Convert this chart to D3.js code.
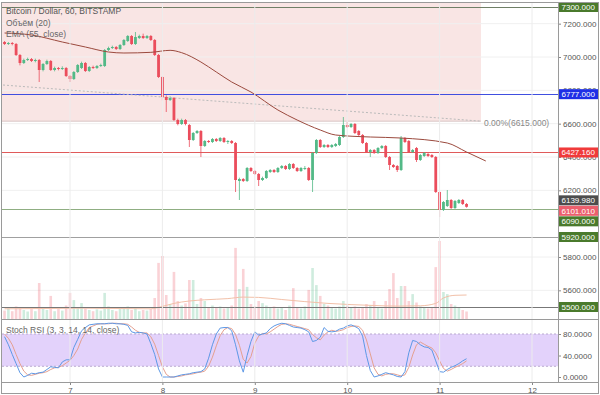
<!DOCTYPE html>
<html lang="ru">
<head>
<meta charset="UTF-8">
<title>Bitcoin / Dollar, 60, BITSTAMP</title>
<script src="https://d3js.org/d3.v7.min.js"></script>
<style>
body{margin:0;background:#fff;}
svg{display:block;font-family:"Liberation Sans",Arial,sans-serif;}
.axis text{font-size:8px;fill:#555;font-family:"Liberation Sans",Arial,sans-serif;}
.axis line{stroke:#888;}
.legend{font-size:8.5px;fill:#666;}
</style>
</head>
<body>
<script>
var width = 600, height = 395;
var left = 2, right = 558, top0 = 3, priceBottom = 319, rsiBottom = 382;

// ---- data ----
var start = Date.UTC(2018, 7, 6, 7); // first hourly candle
var opens = [7090,7078,7084,7078,7012,6964,6982,6988,6976,6982,
  6922,6958,6976,6922,6934,6928,6934,6886,6868,6910,
  6934,6964,6916,6940,6934,6946,6946,7042,7054,7060,
  7048,7072,7096,7126,7078,7114,7126,7114,7126,7102,
  7012,6880,6760,6742,6754,6622,6598,6622,6592,6502,
  6544,6556,6466,6496,6490,6508,6496,6514,6490,6496,
  6484,6256,6268,6256,6334,6316,6298,6262,6274,6310,
  6322,6310,6334,6346,6328,6358,6334,6316,6328,6334,
  6262,6424,6502,6460,6472,6460,6466,6472,6520,6592,
  6580,6598,6556,6532,6484,6430,6442,6424,6454,6466,
  6400,6352,6346,6322,6514,6496,6430,6454,6382,6406,
  6418,6412,6400,6190,6082,6106,6142,6094,6124,6142,
  6118];
var closes = [7078,7084,7078,7012,6964,6982,6988,6976,6982,6922,
  6958,6976,6922,6934,6928,6934,6886,6868,6910,6952,
  6964,6916,6940,6934,6946,6952,7042,7054,7060,7048,
  7072,7102,7126,7078,7120,7126,7114,7126,7102,7012,
  6880,6760,6742,6754,6622,6598,6622,6598,6502,6544,
  6556,6466,6496,6490,6508,6496,6514,6490,6496,6484,
  6262,6268,6256,6334,6316,6298,6262,6274,6316,6322,
  6310,6334,6346,6328,6358,6334,6316,6334,6334,6262,
  6424,6502,6460,6472,6460,6472,6478,6520,6592,6580,
  6598,6544,6532,6484,6430,6442,6424,6454,6466,6400,
  6352,6340,6322,6514,6490,6430,6442,6382,6412,6424,
  6406,6400,6190,6082,6130,6142,6094,6136,6142,6118,
  6101.01];
var highs = [7096,7090,7090,7084,7018,6990,6996,6994,6990,6988,
  6964,6984,6982,6942,6940,6944,6940,6892,6916,6958,
  6972,6970,6946,6948,6952,6960,7048,7062,7068,7066,
  7078,7108,7132,7132,7150,7134,7140,7132,7132,7108,
  7018,6886,6770,6764,6760,6630,6630,6628,6598,6550,
  6562,6562,6502,6502,6514,6514,6520,6520,6502,6502,
  6490,6276,6274,6340,6340,6322,6304,6282,6322,6328,
  6328,6340,6352,6352,6364,6364,6340,6340,6346,6340,
  6430,6508,6508,6478,6478,6478,6484,6526,6640,6610,
  6604,6604,6562,6538,6490,6448,6448,6460,6472,6472,
  6406,6358,6352,6526,6520,6502,6448,6460,6418,6430,
  6424,6418,6406,6196,6136,6202,6148,6142,6148,6148,
  6124];
var lows = [7072,7072,7070,7006,6950,6958,6976,6970,6968,6850,
  6914,6952,6916,6914,6920,6922,6880,6850,6862,6904,
  6928,6910,6910,6928,6928,6940,6940,7036,7048,7042,
  7042,7066,7090,7072,7072,7108,7108,7108,7096,7006,
  6874,6740,6670,6736,6616,6590,6592,6590,6460,6496,
  6538,6400,6460,6484,6484,6490,6490,6484,6478,6478,
  6190,6142,6250,6250,6310,6292,6226,6256,6268,6304,
  6304,6304,6328,6322,6322,6328,6310,6310,6322,6256,
  6190,6418,6454,6454,6454,6454,6460,6466,6514,6574,
  6574,6538,6526,6478,6424,6400,6418,6418,6448,6394,
  6322,6334,6310,6316,6484,6424,6424,6370,6376,6400,
  6400,6394,6184,6040,6076,6100,6088,6088,6118,6112,
  6096];
var volumes = [280,350,260,420,380,300,250,330,260,1200,
  380,300,770,260,330,280,450,870,630,400,
  530,350,300,260,320,280,870,420,300,260,
  350,380,420,300,360,260,300,280,330,700,
  1870,2100,800,500,1570,600,450,520,1300,1300,
  500,700,600,400,450,380,420,350,380,450,
  2370,1000,1670,1070,500,420,600,530,450,380,
  420,350,380,300,450,1030,400,350,420,970,
  1700,1130,770,500,450,400,350,420,600,450,
  380,420,350,400,500,450,600,400,350,600,
  1000,1530,700,1100,1100,600,830,550,420,380,
  350,400,1730,2600,900,830,500,450,370,300,
  250];
var volMaHours  = [0, 10, 20, 30, 38, 41, 44, 48, 52, 58, 62, 66, 72, 78, 84, 90, 96, 102, 108, 112, 114, 117, 120];
var volMaValues = [340, 350, 360, 350, 340, 420, 520, 600, 640, 680, 730, 720, 650, 580, 520, 480, 450, 430, 440, 520, 700, 790, 800];
var emaHours  = [0, 7, 15, 21, 27, 31, 38, 43, 46, 51, 55, 59, 64, 71, 76, 82, 86, 95, 103, 115, 120, 125];
var emaValues = [7144, 7132, 7090, 7060, 7030, 7024, 7028, 7040, 7026, 6970, 6910, 6850, 6790, 6682, 6622, 6562, 6532, 6520, 6514, 6484, 6430, 6376];
var stochK = [75,60,42,25,8,0,3,7,6,8,9,14,19,18,17,28,32,32,55,70,
  86,92,97,98,99,99,99,100,100,99,99,98,96,84,82,83,82,80,62,42,
  15,0,0,0,0,2,4,5,6,8,9,10,15,35,60,80,91,92,92,86,
  60,30,9,40,66,84,78,80,82,90,95,98,100,99,96,93,92,91,88,84,
  66,68,74,92,85,84,85,89,91,95,97,94,90,76,40,12,0,2,5,8,
  6,4,1,0,10,45,68,66,60,56,55,50,30,10,9,14,18,21,25,30,
  34];
var stochD = [80,72,60,42,25,11,4,3,5,7,8,10,14,17,18,21,26,31,40,52,
  70,82,92,95,98,99,99,99,100,100,99,99,98,93,87,83,82,82,75,61,
  40,19,5,0,0,1,2,4,5,6,8,9,11,20,37,58,77,88,92,90,
  79,59,33,26,38,63,76,81,80,84,89,94,98,99,98,96,94,92,90,88,
  79,73,69,78,84,87,85,86,88,92,94,95,94,87,69,43,17,5,2,5,
  6,6,4,2,4,18,41,60,65,61,57,54,45,30,16,11,14,18,21,25,
  30];
var dayTicks = [7, 8, 9, 10, 11, 12];
var priceTicks = [7200, 7000, 6800, 6600, 6400, 6200, 5800, 5600];
var rsiTicks = [0, 40, 80];
var levelPrices = [7300, 6777, 6427.16, 6090, 5920, 5500];
var levelColors = ['#6f7f66', '#3f4fe0', '#e05a5a', '#8fae82', '#a0a0a0', '#777'];
var markPrices = [7300, 6777, 6427.16, 6139.98, 6101.01, 6090, 5920, 5500];
var markColors = ['#4a7a2c', '#1f2fe6', '#f03a3a', '#4d4d4d', '#ec5f6d', '#4a7a2c', '#4a7a2c', '#4a7a2c'];
var fibFrom = {hour: -0.4, price: 6832};
var fibTo = {hour: 123.75, price: 6615};

// ---- scales ----
var hourTime = function(h){ return new Date(start + h * 3600e3); };
var x = d3.scaleUtc()
  .domain([new Date(Date.UTC(2018, 7, 7)), new Date(Date.UTC(2018, 7, 12))])
  .range([70, 532]);
var y = d3.scaleLinear().domain([7300, 5500]).range([7, 307]);
var yVol = d3.scaleLinear().domain([0, 2700]).range([priceBottom, 238]);
var yRsi = d3.scaleLinear().domain([0, 80]).range([377, 334]);

var svg = d3.select('body').append('svg').attr('width', width).attr('height', height);

svg.append('clipPath').attr('id', 'clipPrice').append('rect')
  .attr('x', left).attr('y', top0).attr('width', right - left).attr('height', priceBottom - top0);
svg.append('clipPath').attr('id', 'clipRsi').append('rect')
  .attr('x', left).attr('y', priceBottom).attr('width', right - left).attr('height', rsiBottom - priceBottom);

var gp = svg.append('g').attr('clip-path', 'url(#clipPrice)');
var gr = svg.append('g').attr('clip-path', 'url(#clipRsi)');

// fib zone
var fibX = x(hourTime(fibTo.hour));
gp.append('rect').attr('x', left).attr('y', top0)
  .attr('width', fibX - left).attr('height', y(fibTo.price) - top0)
  .attr('fill', '#f9e5e4');

// grid
var days = dayTicks.map(function(d){ return new Date(Date.UTC(2018, 7, d)); });
svg.selectAll('.vgrid').data(days).enter().append('line')
  .attr('x1', function(d){ return x(d); }).attr('x2', function(d){ return x(d); })
  .attr('y1', top0).attr('y2', rsiBottom)
  .attr('stroke', '#ececec').attr('stroke-width', 1);
gp.selectAll('.hgrid').data(priceTicks).enter().append('line')
  .attr('x1', left).attr('x2', right)
  .attr('y1', function(d){ return y(d); }).attr('y2', function(d){ return y(d); })
  .attr('stroke', '#f0f0f0');

gp.append('line').attr('x1', left).attr('x2', fibX)
  .attr('y1', y(fibTo.price)).attr('y2', y(fibTo.price))
  .attr('stroke', '#d8c4c4');

// volume
var idx = d3.range(closes.length);
var up = function(i){ return closes[i] >= opens[i]; };
gp.selectAll('.vol').data(idx).enter().append('rect')
  .attr('x', function(i){ return x(hourTime(i)) - 1.3; })
  .attr('width', 2.6)
  .attr('y', function(i){ return yVol(volumes[i]); })
  .attr('height', function(i){ return yVol(0) - yVol(volumes[i]); })
  .attr('fill', function(i){ return up(i) ? 'rgba(83,185,135,0.28)' : 'rgba(235,77,92,0.25)'; });

gp.append('path')
  .datum(volMaHours)
  .attr('fill', 'none').attr('stroke', '#f2c0a8').attr('stroke-width', 1)
  .attr('d', d3.line()
    .x(function(h){ return x(hourTime(h)); })
    .y(function(h, k){ return yVol(volMaValues[k]); })
    .curve(d3.curveMonotoneX));

// levels
gp.selectAll('.level').data(levelPrices).enter().append('line')
  .attr('x1', left).attr('x2', right)
  .attr('y1', function(d){ return Math.round(y(d)) + 0.5; })
  .attr('y2', function(d){ return Math.round(y(d)) + 0.5; })
  .attr('stroke', function(d, k){ return levelColors[k]; })
  .attr('stroke-width', 1);

// fib trend line
gp.append('line')
  .attr('x1', x(hourTime(fibFrom.hour))).attr('y1', y(fibFrom.price))
  .attr('x2', fibX).attr('y2', y(fibTo.price))
  .attr('stroke', '#bbb').attr('stroke-dasharray', '2,2');

// candles
var colorOf = function(i){ return up(i) ? '#53b987' : '#eb4d5c'; };
gp.selectAll('.wick').data(idx).enter().append('line')
  .attr('x1', function(i){ return x(hourTime(i)); })
  .attr('x2', function(i){ return x(hourTime(i)); })
  .attr('y1', function(i){ return y(highs[i]); })
  .attr('y2', function(i){ return y(lows[i]); })
  .attr('stroke', colorOf).attr('stroke-width', 0.8);
gp.selectAll('.body').data(idx).enter().append('rect')
  .attr('x', function(i){ return x(hourTime(i)) - 1.4; })
  .attr('width', 2.8)
  .attr('y', function(i){ return y(Math.max(opens[i], closes[i])); })
  .attr('height', function(i){ return Math.max(1, Math.abs(y(opens[i]) - y(closes[i]))); })
  .attr('fill', colorOf);

// EMA
gp.append('path')
  .datum(emaHours)
  .attr('fill', 'none').attr('stroke', '#9b4a3e').attr('stroke-width', 1)
  .attr('d', d3.line()
    .x(function(h){ return x(hourTime(h)); })
    .y(function(h, k){ return y(emaValues[k]); })
    .curve(d3.curveMonotoneX));

// legend
svg.append('text').attr('class', 'legend').attr('x', 6).attr('y', 14)
  .style('fill', '#555').text('Bitcoin / Dollar, 60, BITSTAMP');
svg.append('text').attr('class', 'legend').attr('x', 6).attr('y', 25.5).text('Объём (20)');
svg.append('text').attr('class', 'legend').attr('x', 6).attr('y', 36.5).text('EMA (55, close)');
svg.append('text').attr('class', 'legend').attr('x', fibX + 3).attr('y', y(fibTo.price) + 4.5)
  .style('fill', '#888').text('0.00%(' + d3.format('.3f')(fibTo.price) + ')');

// stoch rsi pane
gr.append('rect').attr('x', left).attr('width', right - left)
  .attr('y', yRsi(80)).attr('height', yRsi(20) - yRsi(80)).attr('fill', '#e3d2fb');
gr.selectAll('.band').data([80, 20]).enter().append('line')
  .attr('x1', left).attr('x2', right)
  .attr('y1', function(d){ return yRsi(d); }).attr('y2', function(d){ return yRsi(d); })
  .attr('stroke', '#b9a9cf').attr('stroke-dasharray', '2,2');
var rsiLine = function(vals){
  return d3.line().x(function(v, i){ return x(hourTime(i)); })
    .y(function(v){ return yRsi(v); })(vals);
};
gr.append('path').attr('d', rsiLine(stochD)).attr('fill', 'none')
  .attr('stroke', '#e5a090').attr('stroke-width', 1);
gr.append('path').attr('d', rsiLine(stochK)).attr('fill', 'none')
  .attr('stroke', '#5d98e6').attr('stroke-width', 1);
svg.append('text').attr('class', 'legend').attr('x', 6).attr('y', 333).text('Stoch RSI (3, 3, 14, 14, close)');

// axes
var priceAxis = svg.append('g').attr('class', 'axis')
  .attr('transform', 'translate(' + right + ',0)')
  .call(d3.axisRight(y).tickValues(priceTicks).tickSize(3).tickPadding(2).tickFormat(d3.format('.3f')));
priceAxis.select('.domain').remove();

var rsiAxis = svg.append('g').attr('class', 'axis')
  .attr('transform', 'translate(' + right + ',0)')
  .call(d3.axisRight(yRsi).tickValues(rsiTicks).tickSize(3).tickPadding(2).tickFormat(d3.format('.4f')));
rsiAxis.select('.domain').remove();

var timeAxis = svg.append('g').attr('class', 'axis')
  .attr('transform', 'translate(0,' + rsiBottom + ')')
  .call(d3.axisBottom(x).tickValues(days).tickSize(3).tickPadding(2)
    .tickFormat(function(d){ return d.getUTCDate(); }));
timeAxis.select('.domain').remove();

// axis price marks
var marks = markPrices.map(function(p, k){ return {p: p, c: markColors[k], y: y(p)}; });
marks.sort(function(a, b){ return a.y - b.y; });
for (var k = 1; k < marks.length; k++) {
  if (marks[k].y - marks[k - 1].y < 10.5) marks[k].y = marks[k - 1].y + 10.5;
}
var mg = svg.selectAll('.mark').data(marks).enter().append('g');
mg.append('rect').attr('x', right + 1).attr('width', 39)
  .attr('y', function(d){ return d.y - 5; }).attr('height', 10)
  .attr('fill', function(d){ return d.c; });
mg.append('text').attr('x', right + 3.5).attr('y', function(d){ return d.y + 3; })
  .attr('font-size', '8px').attr('fill', '#fff')
  .text(function(d){ return d3.format('.3f')(d.p); });

// frame
var frame = svg.append('g').attr('fill', 'none').attr('stroke', '#9a9a9a').attr('stroke-width', 1);
frame.append('rect').attr('x', 1.5).attr('y', 2.5).attr('width', 597).attr('height', 391);
frame.append('line').attr('x1', right + 0.5).attr('x2', right + 0.5).attr('y1', 2.5).attr('y2', rsiBottom);
frame.append('line').attr('x1', 1.5).attr('x2', 598.5).attr('y1', priceBottom + 0.5).attr('y2', priceBottom + 0.5);
frame.append('line').attr('x1', 1.5).attr('x2', 598.5).attr('y1', rsiBottom + 0.5).attr('y2', rsiBottom + 0.5);
</script>
</body>
</html>
